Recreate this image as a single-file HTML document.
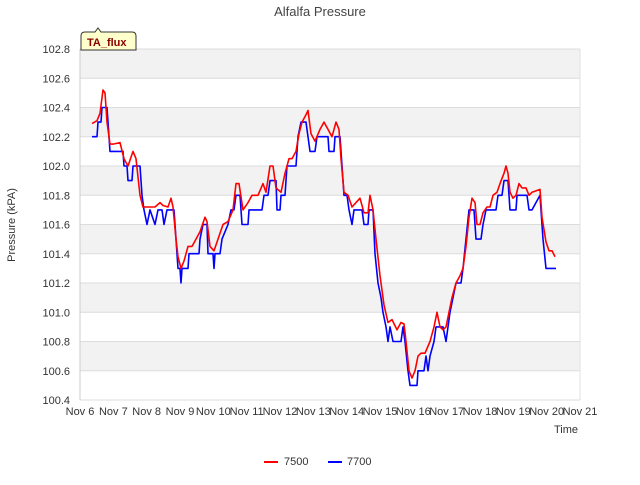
<!DOCTYPE html>
<html><head><meta charset="utf-8"><style>
body{margin:0;background:#fff;font-family:"Liberation Sans",sans-serif}
</style></head><body>
<svg width="640" height="480" xmlns="http://www.w3.org/2000/svg" font-family="Liberation Sans, sans-serif">
<g id="bands"></g>
<g id="grid"></g>
<g id="ticks" font-size="11" fill="#333"></g>
<text x="320" y="16" text-anchor="middle" font-size="13" fill="#444">Alfalfa Pressure</text>
<text x="15" y="225" text-anchor="middle" font-size="11" fill="#333" transform="rotate(-90 15 225)">Pressure (kPA)</text>
<text x="566" y="433" text-anchor="middle" font-size="11" fill="#333">Time</text>
<g>
<path d="M81,50 L81,36 Q81,32 85,32 L95,32 L98,28 L101,32 L132,32 Q136,32 136,36 L136,50 Z" fill="#ffffcc" stroke="#333" stroke-width="1"/>
<text x="87" y="46" font-size="11" font-weight="bold" fill="#8b0000">TA_flux</text>
</g>
<g id="series"></g>
<g>
<line x1="264" y1="462" x2="278" y2="462" stroke="#f00" stroke-width="2"/>
<text x="284" y="465" font-size="11" fill="#333">7500</text>
<line x1="328" y1="462" x2="342" y2="462" stroke="#00f" stroke-width="2"/>
<text x="347" y="465" font-size="11" fill="#333">7700</text>
</g>
</svg>
<script>
const xTickLabels=["Nov 6","Nov 7","Nov 8","Nov 9","Nov 10","Nov 11","Nov 12","Nov 13","Nov 14","Nov 15","Nov 16","Nov 17","Nov 18","Nov 19","Nov 20","Nov 21"];
const yTicks=[100.4,100.6,100.8,101.0,101.2,101.4,101.6,101.8,102.0,102.2,102.4,102.6,102.8];
const redDays=[0.36,0.51,0.6,0.69,0.75,0.81,0.9,0.99,1.2,1.32,1.44,1.59,1.68,1.8,1.89,2.01,2.25,2.4,2.49,2.64,2.73,2.79,2.88,2.94,3.03,3.12,3.24,3.36,3.48,3.6,3.75,3.81,3.9,4.02,4.14,4.29,4.44,4.59,4.68,4.77,4.89,5.04,5.16,5.34,5.49,5.58,5.7,5.79,5.88,6.03,6.15,6.27,6.36,6.48,6.57,6.66,6.78,6.84,6.93,7.05,7.2,7.32,7.44,7.56,7.68,7.77,7.83,7.92,8.04,8.16,8.28,8.4,8.52,8.64,8.7,8.79,8.88,9.0,9.12,9.24,9.36,9.51,9.63,9.72,9.78,9.87,9.96,10.05,10.14,10.23,10.35,10.5,10.62,10.71,10.8,10.89,10.98,11.07,11.16,11.28,11.4,11.49,11.58,11.67,11.76,11.85,11.91,12.0,12.09,12.21,12.3,12.39,12.51,12.6,12.72,12.78,12.84,12.9,12.99,13.08,13.17,13.26,13.38,13.47,13.56,13.68,13.8,13.86,13.98,14.07,14.16,14.25];
const redVals=[102.29,102.31,102.36,102.52,102.5,102.3,102.15,102.15,102.16,102.05,102.0,102.1,102.05,101.8,101.72,101.72,101.72,101.75,101.73,101.72,101.78,101.72,101.5,101.38,101.3,101.35,101.45,101.45,101.5,101.55,101.65,101.62,101.45,101.42,101.5,101.6,101.62,101.7,101.88,101.88,101.7,101.75,101.8,101.8,101.88,101.82,102.0,102.0,101.85,101.82,101.95,102.05,102.05,102.1,102.22,102.3,102.35,102.38,102.22,102.17,102.25,102.3,102.25,102.2,102.3,102.25,102.05,101.82,101.8,101.72,101.75,101.78,101.68,101.68,101.8,101.7,101.5,101.25,101.05,100.93,100.95,100.88,100.93,100.92,100.8,100.6,100.55,100.6,100.7,100.72,100.72,100.8,100.9,101.0,100.9,100.88,100.9,101.0,101.1,101.2,101.25,101.3,101.45,101.65,101.78,101.75,101.6,101.6,101.68,101.72,101.72,101.8,101.82,101.88,101.95,102.0,101.95,101.82,101.78,101.8,101.88,101.85,101.85,101.8,101.82,101.83,101.84,101.65,101.48,101.42,101.42,101.38];
const blueDays=[0.36,0.51,0.54,0.63,0.66,0.81,0.84,0.9,1.29,1.32,1.41,1.44,1.56,1.59,1.8,1.86,1.92,2.01,2.1,2.25,2.34,2.46,2.52,2.61,2.82,2.88,2.94,3.0,3.03,3.06,3.24,3.27,3.57,3.6,3.69,3.81,3.84,3.99,4.02,4.05,4.2,4.26,4.44,4.53,4.62,4.68,4.8,4.86,5.04,5.07,5.46,5.52,5.64,5.7,5.88,5.91,6.0,6.03,6.15,6.21,6.48,6.54,6.63,6.78,6.9,7.05,7.11,7.44,7.47,7.62,7.65,7.8,7.86,7.92,8.01,8.07,8.16,8.22,8.46,8.52,8.64,8.67,8.79,8.85,8.94,9.03,9.09,9.18,9.24,9.3,9.39,9.63,9.69,9.75,9.84,9.9,10.11,10.14,10.32,10.38,10.44,10.5,10.62,10.68,10.89,10.98,11.04,11.1,11.19,11.28,11.43,11.49,11.58,11.67,11.82,11.88,12.03,12.09,12.18,12.48,12.54,12.66,12.72,12.84,12.9,13.08,13.11,13.41,13.47,13.56,13.8,13.83,13.89,13.98,14.28];
const blueVals=[102.2,102.2,102.3,102.3,102.4,102.4,102.3,102.1,102.1,102.0,102.0,101.9,101.9,102.0,102.0,101.8,101.7,101.6,101.7,101.6,101.7,101.7,101.6,101.7,101.7,101.5,101.3,101.3,101.2,101.3,101.3,101.4,101.4,101.5,101.6,101.6,101.4,101.4,101.3,101.4,101.4,101.5,101.6,101.7,101.7,101.8,101.8,101.6,101.6,101.7,101.7,101.8,101.8,101.9,101.9,101.7,101.7,101.8,101.8,102.0,102.0,102.2,102.3,102.3,102.1,102.1,102.2,102.2,102.1,102.1,102.2,102.2,102.0,101.8,101.8,101.7,101.6,101.7,101.7,101.6,101.6,101.7,101.7,101.4,101.2,101.1,101.0,100.9,100.8,100.9,100.8,100.8,100.9,100.8,100.6,100.5,100.5,100.6,100.6,100.7,100.6,100.7,100.8,100.9,100.9,100.8,100.9,101.0,101.1,101.2,101.2,101.3,101.5,101.7,101.7,101.5,101.5,101.6,101.7,101.7,101.8,101.8,101.9,101.9,101.7,101.7,101.8,101.8,101.7,101.7,101.8,101.7,101.5,101.3,101.3];

const X0=80,X1=580,Y0=400,Y1=49,YMIN=100.4,YMAX=102.8,DAYS=15;
const xs=d=>X0+(X1-X0)*d/DAYS;
const ys=v=>Y0-(Y0-Y1)*(v-YMIN)/(YMAX-YMIN);
const NS="http://www.w3.org/2000/svg";
const mk=(t,a,p)=>{const e=document.createElementNS(NS,t);for(const k in a)e.setAttribute(k,a[k]);p.appendChild(e);return e;};
const bands=document.getElementById('bands'),grid=document.getElementById('grid'),ticks=document.getElementById('ticks'),series=document.getElementById('series');
const bg=mk('rect',{x:X0,y:Y1,width:X1-X0,height:Y0-Y1,fill:'#fff'},bands);


for(let i=0;i<yTicks.length-1;i++){
  if(i%2===1){
    const r=mk('rect',{x:X0,y:ys(yTicks[i+1]),width:X1-X0,height:ys(yTicks[i])-ys(yTicks[i+1]),fill:'#f2f2f2'},bands);
    
    
  }
}
yTicks.forEach(v=>{
  const l=mk('line',{x1:X0,x2:X1,y1:ys(v),y2:ys(v),stroke:'#dcdcdc','stroke-width':1},grid);
  
  
  const t=mk('text',{x:X0-10,y:ys(v)+4,'text-anchor':'end'},ticks);
  t.textContent=v.toFixed(1);
  
  
});
const ax=mk('line',{x1:X0,x2:X0,y1:Y1,y2:Y0,stroke:'#ccc'},grid);


const ar=mk('line',{x1:X1,x2:X1,y1:Y1,y2:Y0,stroke:'#e0e0e0'},grid);


xTickLabels.forEach((s,i)=>{
  const t=mk('text',{x:xs(i),y:Y0+15,'text-anchor':'middle'},ticks);
  t.textContent=s;
  
  
});
function line(days,vals,color,name){
  const pts=days.map((d,i)=>xs(d).toFixed(1)+','+ys(vals[i]).toFixed(1)).join(' ');
  const p=mk('polyline',{points:pts,fill:'none',stroke:color,'stroke-width':1.6,'stroke-linejoin':'round'},series);
  
  
}
line(blueDays,blueVals,'#0000ff','series-7700-line');
line(redDays,redVals,'#ff0000','series-7500-line');
</script>
</body></html>
